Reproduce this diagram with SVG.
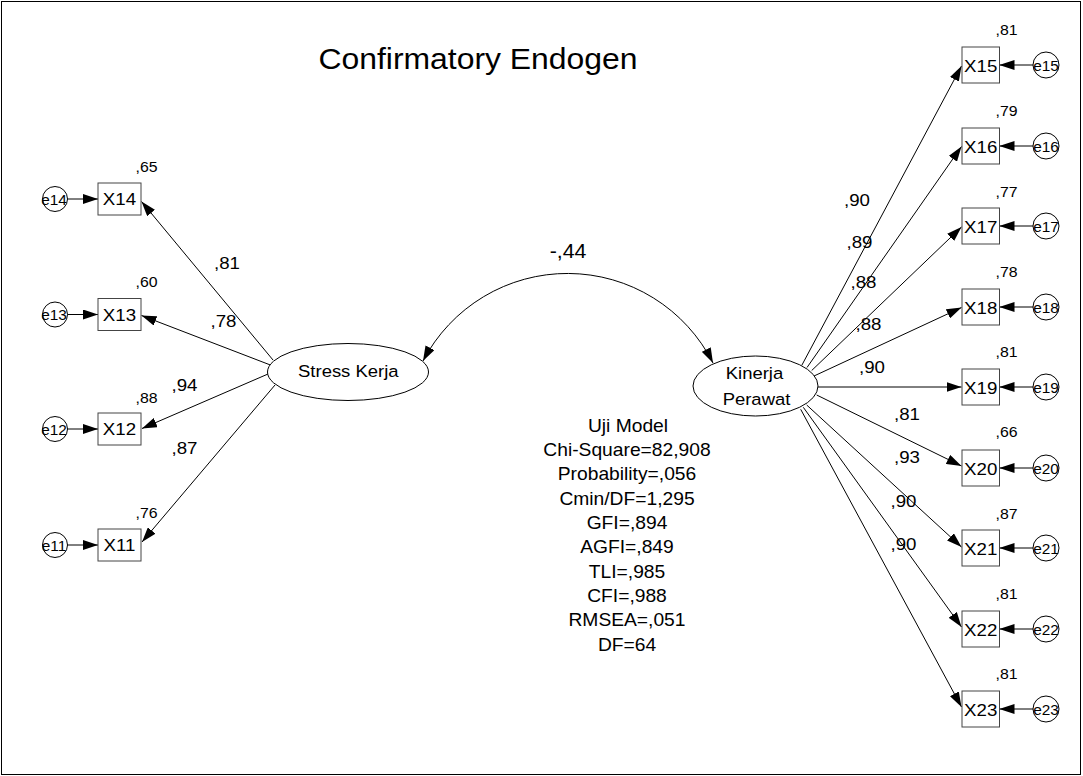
<svg xmlns="http://www.w3.org/2000/svg" width="1083" height="776" viewBox="0 0 1083 776">
  <style>
    text { font-family: "Liberation Sans", Arial, sans-serif; fill: #000; }
    .title { font-size: 29px; text-anchor: middle; }
    .obs { fill: #fff; stroke: #444; stroke-width: 1; }
    .err { fill: #fff; stroke: #000; stroke-width: 1; }
    .lat { fill: #fff; stroke: #000; stroke-width: 1; }
    .obs-t { font-size: 17px; text-anchor: middle; }
    .err-t { font-size: 14px; text-anchor: middle; }
    .lat-t { font-size: 16.8px; text-anchor: middle; }
    .r2 { font-size: 14.4px; }
    .load { font-size: 17px; }
    .cov { font-size: 19.4px; text-anchor: middle; }
    .fit { font-size: 17.5px; text-anchor: middle; }
    .path { fill: none; stroke: #000; stroke-width: 1; marker-end: url(#ah); }
  </style>
  <defs>
    <marker id="ah" viewBox="0 0 15 10" refX="15" refY="5" markerWidth="15" markerHeight="10" markerUnits="userSpaceOnUse" orient="auto-start-reverse">
      <path d="M0,0 L15,5 L0,10 Z" fill="#000"/>
    </marker>
  </defs>

  <!-- frame -->
  <rect x="1.5" y="1.5" width="1079" height="773" fill="#fff" stroke="#000" stroke-width="1"/>

  <text class="title" transform="translate(478 69) scale(1.1 1)">Confirmatory Endogen</text>

  <!-- connectors and their estimates -->
  <g id="connectors">
    <!-- covariance between the latent variables -->
    <path d="M423,361 A163,163 0 0 1 713,363" fill="none" stroke="#000" stroke-width="1" marker-start="url(#ah)" marker-end="url(#ah)"/>
    <text class="cov" transform="translate(568 258) scale(1.1 1)">-,44</text>

    <!-- Stress Kerja loadings -->
    <path class="path" d="M273,360 L141.5,201.5"/>
    <path class="path" d="M273,366 L141.5,315.5"/>
    <path class="path" d="M268,374 L142,428.5"/>
    <path class="path" d="M275,385 L142,542"/>
    <text class="load" transform="translate(214 269) scale(1.1 1)">,81</text>
    <text class="load" transform="translate(210.5 327) scale(1.1 1)">,78</text>
    <text class="load" transform="translate(171.5 390.5) scale(1.1 1)">,94</text>
    <text class="load" transform="translate(171.5 454) scale(1.1 1)">,87</text>

    <!-- Kinerja Perawat loadings -->
    <path class="path" d="M801.7,365.5 L961.5,66"/>
    <path class="path" d="M807,367.5 L961.5,146.5"/>
    <path class="path" d="M811.7,370.5 L961.5,227"/>
    <path class="path" d="M814,376 L961.5,307.5"/>
    <path class="path" d="M818,387 L961.5,387"/>
    <path class="path" d="M816.7,395 L961.5,466"/>
    <path class="path" d="M806.7,405 L961.5,547"/>
    <path class="path" d="M803.3,407.3 L961.5,627"/>
    <path class="path" d="M800.7,409.3 L961.5,707"/>
    <text class="load" transform="translate(844 206) scale(1.1 1)">,90</text>
    <text class="load" transform="translate(846.5 248.3) scale(1.1 1)">,89</text>
    <text class="load" transform="translate(850.5 288) scale(1.1 1)">,88</text>
    <text class="load" transform="translate(855.5 330) scale(1.1 1)">,88</text>
    <text class="load" transform="translate(859 373.3) scale(1.1 1)">,90</text>
    <text class="load" transform="translate(894 420) scale(1.1 1)">,81</text>
    <text class="load" transform="translate(894 463.3) scale(1.1 1)">,93</text>
    <text class="load" transform="translate(890.5 506.7) scale(1.1 1)">,90</text>
    <text class="load" transform="translate(890.5 550) scale(1.1 1)">,90</text>

    <!-- error terms, left -->
    <path class="path" d="M67,199 L98,199"/>
    <path class="path" d="M67,314.5 L98,314.5"/>
    <path class="path" d="M67,429 L98,429"/>
    <path class="path" d="M67,545 L98,545"/>

    <!-- error terms, right -->
    <path class="path" d="M1033,65 L999.5,65"/>
    <path class="path" d="M1033,146 L999.5,146"/>
    <path class="path" d="M1033,226 L999.5,226"/>
    <path class="path" d="M1033,307 L999.5,307"/>
    <path class="path" d="M1033,387 L999.5,387"/>
    <path class="path" d="M1033,468 L999.5,468"/>
    <path class="path" d="M1033,548 L999.5,548"/>
    <path class="path" d="M1033,629 L999.5,629"/>
    <path class="path" d="M1033,709 L999.5,709"/>
  </g>

  <!-- latent variables -->
  <g id="stress-kerja">
    <ellipse class="lat" cx="348" cy="372" rx="80.5" ry="28.5"/>
    <text class="lat-t" transform="translate(348.3 376.7) scale(1.1 1)">Stress Kerja</text>
  </g>
  <g id="kinerja-perawat">
    <ellipse class="lat" cx="755.5" cy="386" rx="62.5" ry="30"/>
    <text class="lat-t" transform="translate(754.5 379.3) scale(1.1 1)">Kinerja</text>
    <text class="lat-t" transform="translate(756.5 405) scale(1.1 1)">Perawat</text>
  </g>

  <!-- indicators of Stress Kerja -->
  <g id="x14">
    <rect class="obs" x="98" y="183" width="43" height="32"/>
    <text class="obs-t" transform="translate(119.5 205) scale(1.1 1)">X14</text>
    <text class="r2" transform="translate(135.5 171.5) scale(1.1 1)">,65</text>
  </g>
  <g id="x13">
    <rect class="obs" x="98" y="298.5" width="43" height="32"/>
    <text class="obs-t" transform="translate(119.5 320.5) scale(1.1 1)">X13</text>
    <text class="r2" transform="translate(135.5 287.3) scale(1.1 1)">,60</text>
  </g>
  <g id="x12">
    <rect class="obs" x="98" y="413" width="43" height="32"/>
    <text class="obs-t" transform="translate(119.5 435) scale(1.1 1)">X12</text>
    <text class="r2" transform="translate(135.5 402.7) scale(1.1 1)">,88</text>
  </g>
  <g id="x11">
    <rect class="obs" x="98" y="529" width="43" height="32"/>
    <text class="obs-t" transform="translate(119.5 551) scale(1.1 1)">X11</text>
    <text class="r2" transform="translate(135.5 518.3) scale(1.1 1)">,76</text>
  </g>

  <!-- errors of Stress Kerja indicators -->
  <g id="e14"><circle class="err" cx="55" cy="199" r="12.5"/><text class="err-t" transform="translate(54 204.5) scale(1.1 1)">e14</text></g>
  <g id="e13"><circle class="err" cx="55" cy="314.5" r="12.5"/><text class="err-t" transform="translate(54 320) scale(1.1 1)">e13</text></g>
  <g id="e12"><circle class="err" cx="55" cy="429" r="12.5"/><text class="err-t" transform="translate(54 434.5) scale(1.1 1)">e12</text></g>
  <g id="e11"><circle class="err" cx="55" cy="545" r="12.5"/><text class="err-t" transform="translate(54 550.5) scale(1.1 1)">e11</text></g>

  <!-- indicators of Kinerja Perawat -->
  <g id="x15">
    <rect class="obs" x="962" y="47" width="37.5" height="36"/>
    <text class="obs-t" transform="translate(980.7 71.5) scale(1.1 1)">X15</text>
    <text class="r2" transform="translate(995.5 35) scale(1.1 1)">,81</text>
  </g>
  <g id="x16">
    <rect class="obs" x="962" y="128" width="37.5" height="36"/>
    <text class="obs-t" transform="translate(980.7 152.5) scale(1.1 1)">X16</text>
    <text class="r2" transform="translate(995.5 116) scale(1.1 1)">,79</text>
  </g>
  <g id="x17">
    <rect class="obs" x="962" y="208" width="37.5" height="36"/>
    <text class="obs-t" transform="translate(980.7 232.5) scale(1.1 1)">X17</text>
    <text class="r2" transform="translate(995.5 197.3) scale(1.1 1)">,77</text>
  </g>
  <g id="x18">
    <rect class="obs" x="962" y="289" width="37.5" height="36"/>
    <text class="obs-t" transform="translate(980.7 313.5) scale(1.1 1)">X18</text>
    <text class="r2" transform="translate(995.5 276.7) scale(1.1 1)">,78</text>
  </g>
  <g id="x19">
    <rect class="obs" x="962" y="369" width="37.5" height="36"/>
    <text class="obs-t" transform="translate(980.7 393.5) scale(1.1 1)">X19</text>
    <text class="r2" transform="translate(995.5 357.3) scale(1.1 1)">,81</text>
  </g>
  <g id="x20">
    <rect class="obs" x="962" y="450" width="37.5" height="36"/>
    <text class="obs-t" transform="translate(980.7 474.5) scale(1.1 1)">X20</text>
    <text class="r2" transform="translate(995.5 437.3) scale(1.1 1)">,66</text>
  </g>
  <g id="x21">
    <rect class="obs" x="962" y="530" width="37.5" height="36"/>
    <text class="obs-t" transform="translate(980.7 554.5) scale(1.1 1)">X21</text>
    <text class="r2" transform="translate(995.5 519.3) scale(1.1 1)">,87</text>
  </g>
  <g id="x22">
    <rect class="obs" x="962" y="611" width="37.5" height="36"/>
    <text class="obs-t" transform="translate(980.7 635.5) scale(1.1 1)">X22</text>
    <text class="r2" transform="translate(995.5 599.3) scale(1.1 1)">,81</text>
  </g>
  <g id="x23">
    <rect class="obs" x="962" y="691" width="37.5" height="36"/>
    <text class="obs-t" transform="translate(980.7 715.5) scale(1.1 1)">X23</text>
    <text class="r2" transform="translate(995.5 679.3) scale(1.1 1)">,81</text>
  </g>

  <!-- errors of Kinerja Perawat indicators -->
  <g id="e15"><circle class="err" cx="1046" cy="65" r="13"/><text class="err-t" transform="translate(1046 70.5) scale(1.1 1)">e15</text></g>
  <g id="e16"><circle class="err" cx="1046" cy="146" r="13"/><text class="err-t" transform="translate(1046 151.5) scale(1.1 1)">e16</text></g>
  <g id="e17"><circle class="err" cx="1046" cy="226" r="13"/><text class="err-t" transform="translate(1046 231.5) scale(1.1 1)">e17</text></g>
  <g id="e18"><circle class="err" cx="1046" cy="307" r="13"/><text class="err-t" transform="translate(1046 312.5) scale(1.1 1)">e18</text></g>
  <g id="e19"><circle class="err" cx="1046" cy="387" r="13"/><text class="err-t" transform="translate(1046 392.5) scale(1.1 1)">e19</text></g>
  <g id="e20"><circle class="err" cx="1046" cy="468" r="13"/><text class="err-t" transform="translate(1046 473.5) scale(1.1 1)">e20</text></g>
  <g id="e21"><circle class="err" cx="1046" cy="548" r="13"/><text class="err-t" transform="translate(1046 553.5) scale(1.1 1)">e21</text></g>
  <g id="e22"><circle class="err" cx="1046" cy="629" r="13"/><text class="err-t" transform="translate(1046 634.5) scale(1.1 1)">e22</text></g>
  <g id="e23"><circle class="err" cx="1046" cy="709" r="13"/><text class="err-t" transform="translate(1046 714.5) scale(1.1 1)">e23</text></g>

  <!-- model fit summary -->
  <g id="fit-summary">
    <text class="fit" transform="translate(628 431.5) scale(1.1 1)">Uji Model</text>
    <text class="fit" transform="translate(627 455.9) scale(1.1 1)">Chi-Square=82,908</text>
    <text class="fit" transform="translate(627 480.2) scale(1.1 1)">Probability=,056</text>
    <text class="fit" transform="translate(627 504.6) scale(1.1 1)">Cmin/DF=1,295</text>
    <text class="fit" transform="translate(627 528.9) scale(1.1 1)">GFI=,894</text>
    <text class="fit" transform="translate(627 553.3) scale(1.1 1)">AGFI=,849</text>
    <text class="fit" transform="translate(627 577.6) scale(1.1 1)">TLI=,985</text>
    <text class="fit" transform="translate(627 602) scale(1.1 1)">CFI=,988</text>
    <text class="fit" transform="translate(627 626.3) scale(1.1 1)">RMSEA=,051</text>
    <text class="fit" transform="translate(627 650.7) scale(1.1 1)">DF=64</text>
  </g>
</svg>
